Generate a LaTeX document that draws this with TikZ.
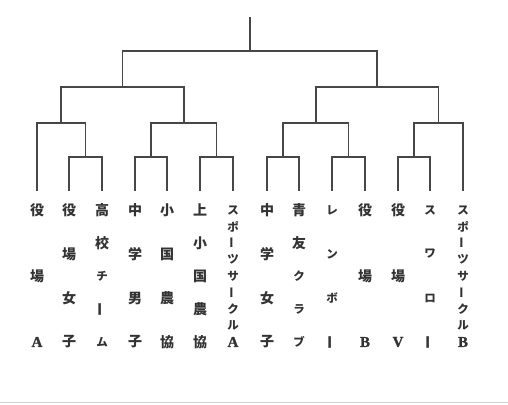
\documentclass[tikz,border=0pt]{standalone}
\usepackage{fontspec}
\usepackage{graphicx}
\newfontfamily\jp{Noto Sans CJK JP}
\newfontfamily\latf{Liberation Serif}[UprightFont=* Bold,FakeBold=1.5]
\newcommand\ks[1]{{\fontsize{11.5}{12}\selectfont #1}}
\newcommand\vb{\rotatebox{90}{ー}}
\newcommand\lat[1]{{\latf\mdseries\fontsize{15}{16}\selectfont #1}}
\newcommand\vcol[4]{%
  \foreach[count=\i] \c in {#4}{%
    \pgfmathsetmacro\yy{210+(\i-1)*132/(#3-1)}%
    \node[ch] (#2-\i) at (#1,\yy) {\c};}}
\begin{document}
\begin{tikzpicture}[x=1pt,y=-1pt,
  ch/.style={inner sep=0pt,text=black!80,font=\jp\bfseries\fontsize{14}{15}\selectfont},
  tree/.style={draw=black!72,line width=1.7pt,line cap=rect}]
\useasboundingbox (0,0) rectangle (508,404);
\draw[black!18,line width=1pt] (0,402.5) -- (508,402.5);
% leaf tops
\foreach \n/\x in {1/37,2/69,3/102,4/135,5/167,6/200,7/233,8/267,9/299,10/332,11/365,12/398,13/430,14/463}
  \coordinate (l\n) at (\x,190);
% junctions
\coordinate (m23) at (85.5,157);
\coordinate (m45) at (151,157);
\coordinate (m67) at (216.5,157);
\coordinate (m89) at (283,157);
\coordinate (m1011) at (348.5,157);
\coordinate (m1213) at (414,157);
\coordinate (mA) at (61,123);
\coordinate (mB) at (183.75,123);
\coordinate (mC) at (315.75,123);
\coordinate (mD) at (438.5,123);
\coordinate (mL) at (122.4,87);
\coordinate (mR) at (377.1,87);
\coordinate (r1) at (249.75,51);
\coordinate (r0) at (249.75,18);
\draw[tree] (l2) |- (m23) -| (l3);
\draw[tree] (l4) |- (m45) -| (l5);
\draw[tree] (l6) |- (m67) -| (l7);
\draw[tree] (l8) |- (m89) -| (l9);
\draw[tree] (l10) |- (m1011) -| (l11);
\draw[tree] (l12) |- (m1213) -| (l13);
\draw[tree] (l1) |- (mA) -| (m23);
\draw[tree] (m45) |- (mB) -| (m67);
\draw[tree] (m89) |- (mC) -| (m1011);
\draw[tree] (m1213) |- (mD) -| (l14);
\draw[tree] (mA) |- (mL) -| (mB);
\draw[tree] (mC) |- (mR) -| (mD);
\draw[tree] (mL) |- (r1) -| (mR);
\draw[tree] (r1) -- (r0);
% labels
\vcol{37}{c1}{3}{役,場,\lat{A}}
\vcol{69}{c2}{4}{役,場,女,子}
\vcol{102}{c3}{5}{高,校,\ks{チ},\vb,\ks{ム}}
\vcol{135}{c4}{4}{中,学,男,子}
\vcol{167}{c5}{4}{小,国,農,協}
\vcol{200}{c6}{5}{上,小,国,農,協}
\vcol{233}{c7}{9}{\ks{ス},\ks{ポ},\ks{\vb},\ks{ツ},\ks{サ},\ks{\vb},\ks{ク},\ks{ル},\lat{A}}
\vcol{267}{c8}{4}{中,学,女,子}
\vcol{299}{c9}{5}{青,友,\ks{ク},\ks{ラ},\ks{ブ}}
\vcol{332}{c10}{4}{\ks{レ},\ks{ン},\ks{ボ},\vb}
\vcol{365}{c11}{3}{役,場,\lat{B}}
\vcol{398}{c12}{3}{役,場,\lat{V}}
\vcol{430}{c13}{4}{\ks{ス},\ks{ワ},\ks{ロ},\vb}
\vcol{463}{c14}{9}{\ks{ス},\ks{ポ},\ks{\vb},\ks{ツ},\ks{サ},\ks{\vb},\ks{ク},\ks{ル},\lat{B}}
\end{tikzpicture}
\end{document}
